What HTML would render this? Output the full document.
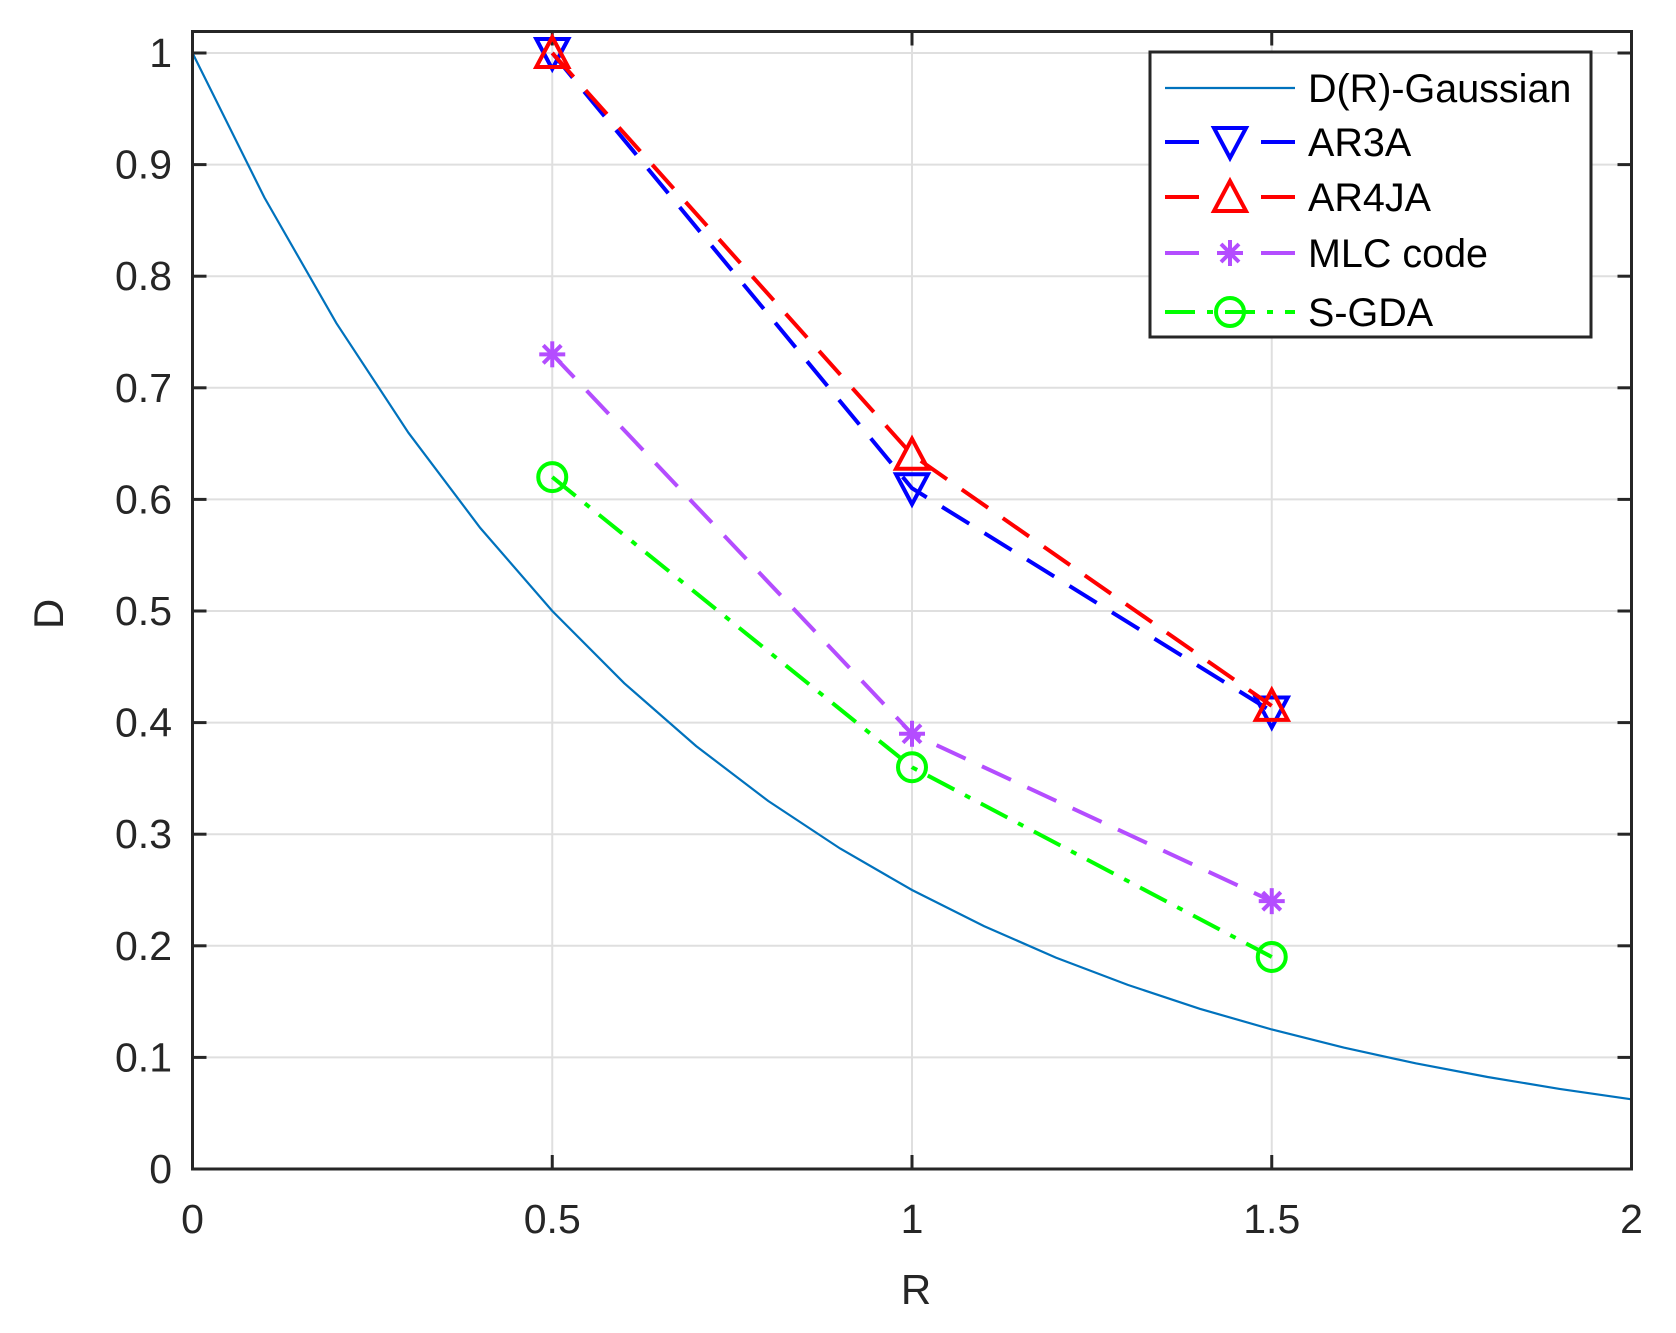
<!DOCTYPE html>
<html><head><meta charset="utf-8"><style>
html,body{margin:0;padding:0;background:#fff;}
svg text{font-family:"Liberation Sans",sans-serif;fill:#262626;}
</style></head><body>
<svg id="s" width="1676" height="1328" xmlns="http://www.w3.org/2000/svg"></svg>
<script>
const S=document.getElementById('s');
const L=192.5,R=1631.5,B=1169,T=31.5;
const X=r=>L+(R-L)*r/2, Y=d=>B-1116*d;
let h='';
for(let i=1;i<4;i++){let x=X(i*0.5);h+=`<line x1="${x}" y1="${T}" x2="${x}" y2="${B}" stroke="#dfdfdf" stroke-width="2"/>`;}
for(let i=1;i<=10;i++){let y=Y(i/10);h+=`<line x1="${L}" y1="${y}" x2="${R}" y2="${y}" stroke="#dfdfdf" stroke-width="2"/>`;}
for(let i=0;i<=4;i++){let x=X(i*0.5);h+=`<line x1="${x}" y1="${B}" x2="${x}" y2="${B-14}" stroke="#262626" stroke-width="3"/><line x1="${x}" y1="${T}" x2="${x}" y2="${T+14}" stroke="#262626" stroke-width="3"/>`;
h+=`<text x="${x}" y="${1233}" font-size="41" text-anchor="middle">${['0','0.5','1','1.5','2'][i]}</text>`;}
for(let i=0;i<=10;i++){let y=Y(i/10);h+=`<line x1="${L}" y1="${y}" x2="${L+14}" y2="${y}" stroke="#262626" stroke-width="3"/><line x1="${R}" y1="${y}" x2="${R-14}" y2="${y}" stroke="#262626" stroke-width="3"/>`;
h+=`<text x="172" y="${y+14}" font-size="41" text-anchor="end">${i==0?'0':i==10?'1':(i/10).toFixed(1)}</text>`;}
let p=[];for(let k=0;k<=20;k++){let r=k*0.1;p.push(X(r).toFixed(1)+','+Y(Math.pow(2,-2*r)).toFixed(1));}
h+=`<polyline points="${p.join(' ')}" fill="none" stroke="#0072bd" stroke-width="2.2"/>`;
function series(d,col,dash,mk){let pts=d.map((v,i)=>X(0.5+0.5*i)+','+Y(v));h+=`<polyline points="${pts.join(' ')}" fill="none" stroke="${col}" stroke-width="4" stroke-dasharray="${dash}"/>`;d.forEach((v,i)=>h+=mk(X(0.5+0.5*i),Y(v),col));}
const tdown=(x,y,c)=>`<polygon points="${x-16},${y-14} ${x+16},${y-14} ${x},${y+16}" fill="none" stroke="${c}" stroke-width="4"/>`;
const tup=(x,y,c)=>`<polygon points="${x-16},${y+14} ${x+16},${y+14} ${x},${y-16}" fill="none" stroke="${c}" stroke-width="4"/>`;
const star=(x,y,c)=>`<g stroke="${c}" stroke-width="4"><line x1="${x-13}" y1="${y}" x2="${x+13}" y2="${y}"/><line x1="${x}" y1="${y-13}" x2="${x}" y2="${y+13}"/><line x1="${x-9}" y1="${y-9}" x2="${x+9}" y2="${y+9}"/><line x1="${x-9}" y1="${y+9}" x2="${x+9}" y2="${y-9}"/></g>`;
const circ=(x,y,c)=>`<circle cx="${x}" cy="${y}" r="14" fill="none" stroke="${c}" stroke-width="4"/>`;
series([1,0.61,0.41],'#0000ff','32 18',tdown);
series([1,0.64,0.415],'#ff0000','32 18',tup);
series([0.73,0.39,0.24],'#b44dff','32 18',star);
series([0.62,0.36,0.19],'#00ff00','30 12 6 12',circ);
h+=`<rect x="${L}" y="${T}" width="${R-L}" height="${B-T}" fill="none" stroke="#262626" stroke-width="3"/>`;
h+=`<text x="916" y="1304" font-size="42" text-anchor="middle">R</text>`;
h+=`<text transform="translate(63,614) rotate(-90)" font-size="42" text-anchor="middle">D</text>`;
h+=`<rect x="1150" y="52" width="441" height="285" fill="#fff" stroke="#262626" stroke-width="3"/>`;
const rows=[[88,'D(R)-Gaussian'],[142,'AR3A'],[197,'AR4JA'],[253,'MLC code'],[312,'S-GDA']];
const lc=['#0072bd','#0000ff','#ff0000','#b44dff','#00ff00'];
const mks=[null,tdown,tup,star,circ];
rows.forEach((r,i)=>{let y=r[0];
 if(i==0)h+=`<line x1="1165" y1="${y}" x2="1295" y2="${y}" stroke="${lc[0]}" stroke-width="2.2"/>`;
 else{h+=`<line x1="1165" y1="${y}" x2="1295" y2="${y}" stroke="${lc[i]}" stroke-width="4" stroke-dasharray="${i==4?'30 12 6 12':'34 31 0 31 34'}"/>`;h+=mks[i](1230,y,lc[i]);}
 h+=`<text x="1308" y="${y+14}" font-size="39.5" style="fill:#000">${r[1]}</text>`;});
S.innerHTML=h;
</script>
</body></html>
